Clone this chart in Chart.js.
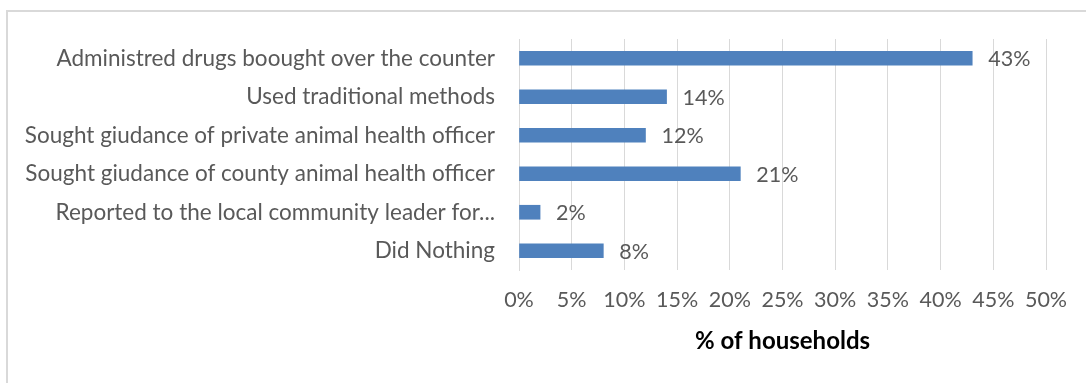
<!DOCTYPE html>
<html>
<head>
  <title>Response to livestock illness</title>
  <script src="https://cdn.jsdelivr.net/npm/chart.js"></script>
  <style>
    body { margin: 0; background: #fff; }
    #frame { position: absolute; left: 6px; top: 10px; right: 0; bottom: 0;
             border-top: 2px solid #d9d9d9; border-left: 2px solid #d9d9d9; }
    #wrap { position: absolute; left: 0; top: 0; width: 1086px; height: 383px; }
  </style>
</head>
<body>
  <div id="frame"></div>
  <div id="wrap">
    <canvas id="actionsChart"></canvas>
  </div>

  <script>
    const actions = [
      'Administred drugs boought over the counter',
      'Used traditional methods',
      'Sought giudance of private animal health officer',
      'Sought giudance of county animal health officer',
      'Reported to the local community leader for...',
      'Did Nothing'
    ];
    const householdPct = [43, 14, 12, 21, 2, 8];
    const axisTicks = [0, 5, 10, 15, 20, 25, 30, 35, 40, 45, 50];

    const FONT = 'Lato, "Liberation Sans", sans-serif';
    const GREY_TEXT = '#595959';

    // percentage labels to the right of each bar
    const barValueLabels = {
      id: 'barValueLabels',
      afterDatasetsDraw(chart) {
        const ctx = chart.ctx;
        const meta = chart.getDatasetMeta(0);
        ctx.save();
        ctx.font = '21.5px ' + FONT;
        ctx.fillStyle = GREY_TEXT;
        ctx.textAlign = 'left';
        ctx.textBaseline = 'middle';
        meta.data.forEach((bar, i) => {
          ctx.fillText(householdPct[i] + '%', bar.x + 16, bar.y + 1);
        });
        ctx.restore();
      }
    };

    new Chart(document.getElementById('actionsChart'), {
      type: 'bar',
      data: {
        labels: actions,
        datasets: [{
          data: householdPct,
          backgroundColor: '#4f81bd',
          barThickness: 14
        }]
      },
      options: {
        indexAxis: 'y',
        responsive: true,
        maintainAspectRatio: false,
        animation: false,
        layout: { padding: { top: 39, right: 40, left: 0, bottom: 0 } },
        plugins: {
          legend: { display: false },
          tooltip: { enabled: false }
        },
        scales: {
          x: {
            min: 0,
            max: 50,
            afterBuildTicks(scale) {
              scale.ticks = axisTicks.map(v => ({ value: v }));
            },
            afterFit(scale) { scale.height = 113; },
            grid: { color: '#d9d9d9', drawTicks: false },
            border: { display: false },
            ticks: {
              padding: 17,
              color: GREY_TEXT,
              font: { family: FONT, size: 21.5 },
              callback: v => v + '%'
            },
            title: {
              display: true,
              text: '% of households',
              color: '#000',
              font: { family: FONT, size: 24, weight: 'bold' },
              padding: { top: 0, bottom: 27 }
            }
          },
          y: {
            afterFit(scale) { scale.width = 519; },
            grid: { display: false },
            border: { display: true, color: '#d9d9d9' },
            ticks: {
              padding: 16,
              color: GREY_TEXT,
              font: { family: FONT, size: 22.5 }
            }
          }
        }
      },
      plugins: [barValueLabels]
    });
  </script>
</body>
</html>
